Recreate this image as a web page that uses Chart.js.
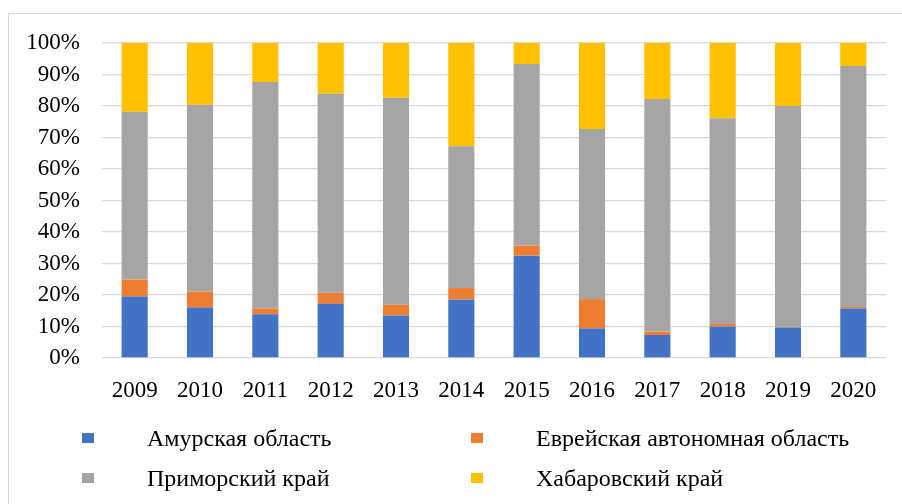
<!DOCTYPE html>
<html>
<head>
<meta charset="utf-8">
<script src="https://cdn.jsdelivr.net/npm/chart.js@4/dist/chart.umd.min.js"></script>
<style>
  html, body { margin: 0; padding: 0; background: #fff; }
  #wrap { position: relative; width: 902px; height: 504px; overflow: hidden; }
  #frame { position: absolute; left: 8px; top: 13px; width: 950px; height: 600px; border: 1px solid #d9d9d9; }
  canvas { position: absolute; left: 0; top: 0; }
  .leg { position: absolute; font-family: "Liberation Serif", "Times New Roman", serif; font-size: 24px; color: #000; white-space: nowrap; line-height: 1; }
  .box { position: absolute; width: 12px; height: 10px; }
</style>
</head>
<body>
<div id="wrap">
  <div id="frame"></div>
  <canvas id="myChart" width="902" height="504"></canvas>
  <div id="legend"></div>
</div>
<script>
var years = ['2009','2010','2011','2012','2013','2014','2015','2016','2017','2018','2019','2020'];
var amurData   = [19.5, 16.0, 13.9, 17.2, 13.5, 18.6, 32.5, 9.4, 7.3, 10.0, 9.7, 15.7];
var evreyData  = [5.4, 5.1, 1.8, 3.5, 3.4, 3.6, 3.2, 9.3, 1.1, 0.8, 0.2, 0.5];
var primData   = [53.3, 59.3, 71.9, 63.2, 65.7, 45.0, 57.6, 54.0, 73.8, 65.3, 70.1, 76.5];
var khabData   = [21.8, 19.6, 12.4, 16.1, 17.4, 32.8, 6.7, 27.3, 17.8, 23.9, 20.0, 7.3];
var seriesNames = ['Амурская область', 'Еврейская автономная область', 'Приморский край', 'Хабаровский край'];
var seriesColors = ['#4472C4', '#ED7D31', '#A5A5A5', '#FFC000'];

var serif = "'Liberation Serif', 'Times New Roman', serif";

function makeSet(i, data) {
    return {
        label: seriesNames[i],
        data: data,
        backgroundColor: seriesColors[i],
        borderWidth: 0,
        barPercentage: 0.4,
        categoryPercentage: 1.0
    };
}

var ctx = document.getElementById('myChart').getContext('2d');
var myChart = new Chart(ctx, {
    type: 'bar',
    data: {
        labels: years,
        datasets: [
            makeSet(0, amurData),
            makeSet(1, evreyData),
            makeSet(2, primData),
            makeSet(3, khabData)
        ]
    },
    options: {
        responsive: false,
        animation: false,
        layout: { padding: { left: 0, right: 16, top: 43, bottom: 96 } },
        plugins: {
            legend: { display: false },
            tooltip: { enabled: false }
        },
        scales: {
            x: {
                stacked: true,
                grid: { display: false },
                border: { display: false },
                ticks: { color: '#000', font: { family: serif, size: 23 }, padding: 11, maxRotation: 0 },
                afterFit: function (scale) { scale.height = 50; }
            },
            y: {
                stacked: true,
                min: 0,
                max: 100,
                grid: { color: '#d9d9d9', lineWidth: 1.3, drawTicks: false },
                border: { display: false },
                ticks: {
                    stepSize: 10,
                    color: '#000',
                    font: { family: serif, size: 23 },
                    padding: 22,
                    callback: function (v) { return v + '%'; }
                },
                afterFit: function (scale) { scale.width = 102; }
            }
        }
    }
});

// legend in two columns below the chart
var legendPos = [[82, 433], [471, 433], [82, 473], [471, 473]];
var legend = document.getElementById('legend');
for (var i = 0; i < seriesNames.length; i++) {
    var b = document.createElement('div');
    b.className = 'box';
    b.style.left = legendPos[i][0] + 'px';
    b.style.top = legendPos[i][1] + 'px';
    b.style.background = seriesColors[i];
    legend.appendChild(b);
    var t = document.createElement('div');
    t.className = 'leg';
    t.style.left = (legendPos[i][0] + 65) + 'px';
    t.style.top = (legendPos[i][1] - 7) + 'px';
    t.textContent = seriesNames[i];
    legend.appendChild(t);
}
</script>
</body>
</html>
